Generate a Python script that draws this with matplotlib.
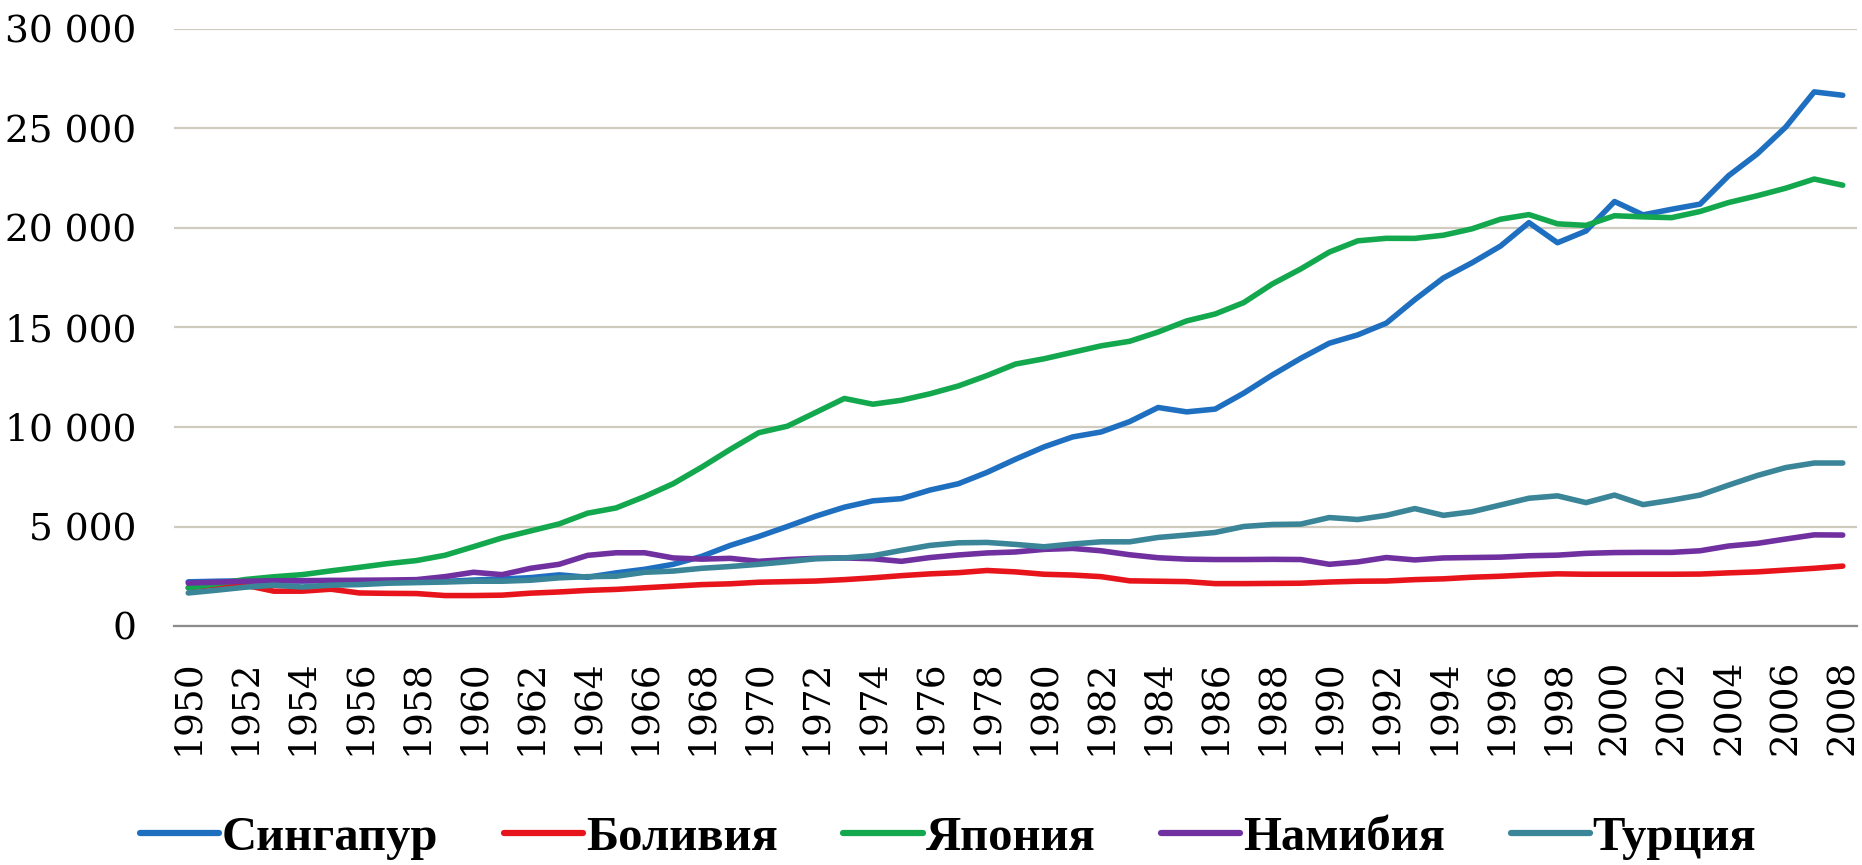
import matplotlib
matplotlib.use("Agg")
import matplotlib.pyplot as plt
from matplotlib.ticker import FuncFormatter

years = list(range(1950, 2009))

singapore = [2219, 2250, 2270, 2280, 2260, 2280, 2260, 2250, 2250, 2240,
             2310, 2360, 2430, 2570, 2450, 2670, 2850, 3100, 3500, 4050,
             4500, 5000, 5520, 5970, 6290, 6400, 6830, 7150, 7720, 8380,
             9000, 9500, 9750, 10270, 10980, 10760, 10900, 11700, 12610, 13450,
             14210, 14630, 15220, 16400, 17490, 18250, 19090, 20270, 19260, 19850,
             21330, 20660, 20940, 21200, 22630, 23720, 25070, 26840, 26670]

bolivia = [1920, 2050, 2050, 1750, 1750, 1850, 1660, 1640, 1630, 1530,
           1530, 1550, 1650, 1710, 1790, 1840, 1920, 2000, 2080, 2120,
           2200, 2230, 2260, 2330, 2420, 2530, 2620, 2680, 2790, 2720,
           2600, 2560, 2480, 2270, 2250, 2230, 2130, 2130, 2140, 2150,
           2210, 2250, 2260, 2330, 2370, 2450, 2500, 2570, 2620, 2600,
           2600, 2600, 2600, 2610, 2670, 2720, 2810, 2900, 3010]

japan = [1921, 2126, 2336, 2474, 2582, 2771, 2948, 3136, 3289, 3554,
         3986, 4426, 4777, 5129, 5668, 5934, 6506, 7152, 7983, 8874,
         9714, 10040, 10734, 11434, 11145, 11344, 11669, 12064, 12585, 13163,
         13428, 13754, 14078, 14307, 14773, 15331, 15679, 16251, 17185, 17943,
         18789, 19355, 19482, 19478, 19637, 19957, 20440, 20673, 20210, 20131,
         20616, 20560, 20520, 20830, 21280, 21620, 22000, 22460, 22150]

namibia = [2160, 2200, 2250, 2270, 2280, 2290, 2300, 2310, 2330, 2480,
           2700, 2580, 2900, 3100, 3550, 3680, 3680, 3420, 3360, 3400,
           3250, 3340, 3400, 3420, 3380, 3250, 3440, 3570, 3670, 3720,
           3850, 3900, 3780, 3580, 3430, 3360, 3340, 3340, 3350, 3340,
           3100, 3220, 3440, 3320, 3420, 3440, 3460, 3530, 3560, 3650,
           3690, 3700, 3700, 3780, 4020, 4150, 4370, 4580, 4570]

turkey = [1660, 1800, 1950, 2050, 1960, 2050, 2080, 2150, 2180, 2210,
          2250, 2250, 2300, 2420, 2480, 2500, 2700, 2760, 2900, 2990,
          3100, 3230, 3380, 3420, 3530, 3800, 4050, 4180, 4200, 4100,
          3980, 4120, 4230, 4230, 4450, 4570, 4700, 5000, 5100, 5120,
          5450, 5350, 5560, 5900, 5560, 5740, 6080, 6420, 6540, 6200,
          6580, 6100, 6320, 6580, 7080, 7560, 7960, 8190, 8190]

series_names = ["Сингапур", "Боливия", "Япония", "Намибия", "Турция"]
series_values = [singapore, bolivia, japan, namibia, turkey]
series_colors = ["#1F6FC1", "#E8141B", "#14A84E", "#7030A0", "#3A8598"]

y_ticks = [0, 5000, 10000, 15000, 20000, 25000, 30000]
x_tick_labels = [str(y) for y in years[::2]]

plt.rcParams['font.family'] = ['DejaVu Serif']

fig = plt.figure(figsize=(18.62, 8.65), dpi=100)
ax = fig.add_axes([174 / 1862, 1 - 626 / 865, 1683 / 1862, 597 / 865])

for name, vals, col in zip(series_names, series_values, series_colors):
    ax.plot(years, vals, color=col, lw=4.0, label=name,
            solid_capstyle='round', solid_joinstyle='round')

ax.set_xlim(years[0] - 0.5, years[-1] + 0.5)
ax.set_ylim(0, 30000)
ax.set_yticks(y_ticks)
ax.yaxis.set_major_formatter(FuncFormatter(lambda v, p: f"{int(v):,}".replace(",", " ")))
ax.set_xticks(years[::2])
ax.set_xticklabels(x_tick_labels, rotation=90)

ax.grid(axis='y', color='#CFCBBE', lw=1.6)
ax.set_axisbelow(True)
for s in ['top', 'right', 'left']:
    ax.spines[s].set_visible(False)
ax.spines['bottom'].set_color('#8C8C8C')
ax.spines['bottom'].set_linewidth(1.6)
ax.tick_params(axis='both', length=0, labelsize=27, colors='black')
ax.tick_params(axis='y', pad=27)
ax.tick_params(axis='x', pad=24)

leg = fig.legend(loc='center', bbox_to_anchor=(948 / 1862, 1 - 838 / 865), ncol=5,
                 frameon=False,
                 prop={'family': 'Liberation Serif', 'weight': 'bold', 'size': 35},
                 handlelength=1.63, handletextpad=0.06, columnspacing=1.35)
for line in leg.get_lines():
    line.set_linewidth(4.5)

fig.savefig("out.png", dpi=100, facecolor='white')
